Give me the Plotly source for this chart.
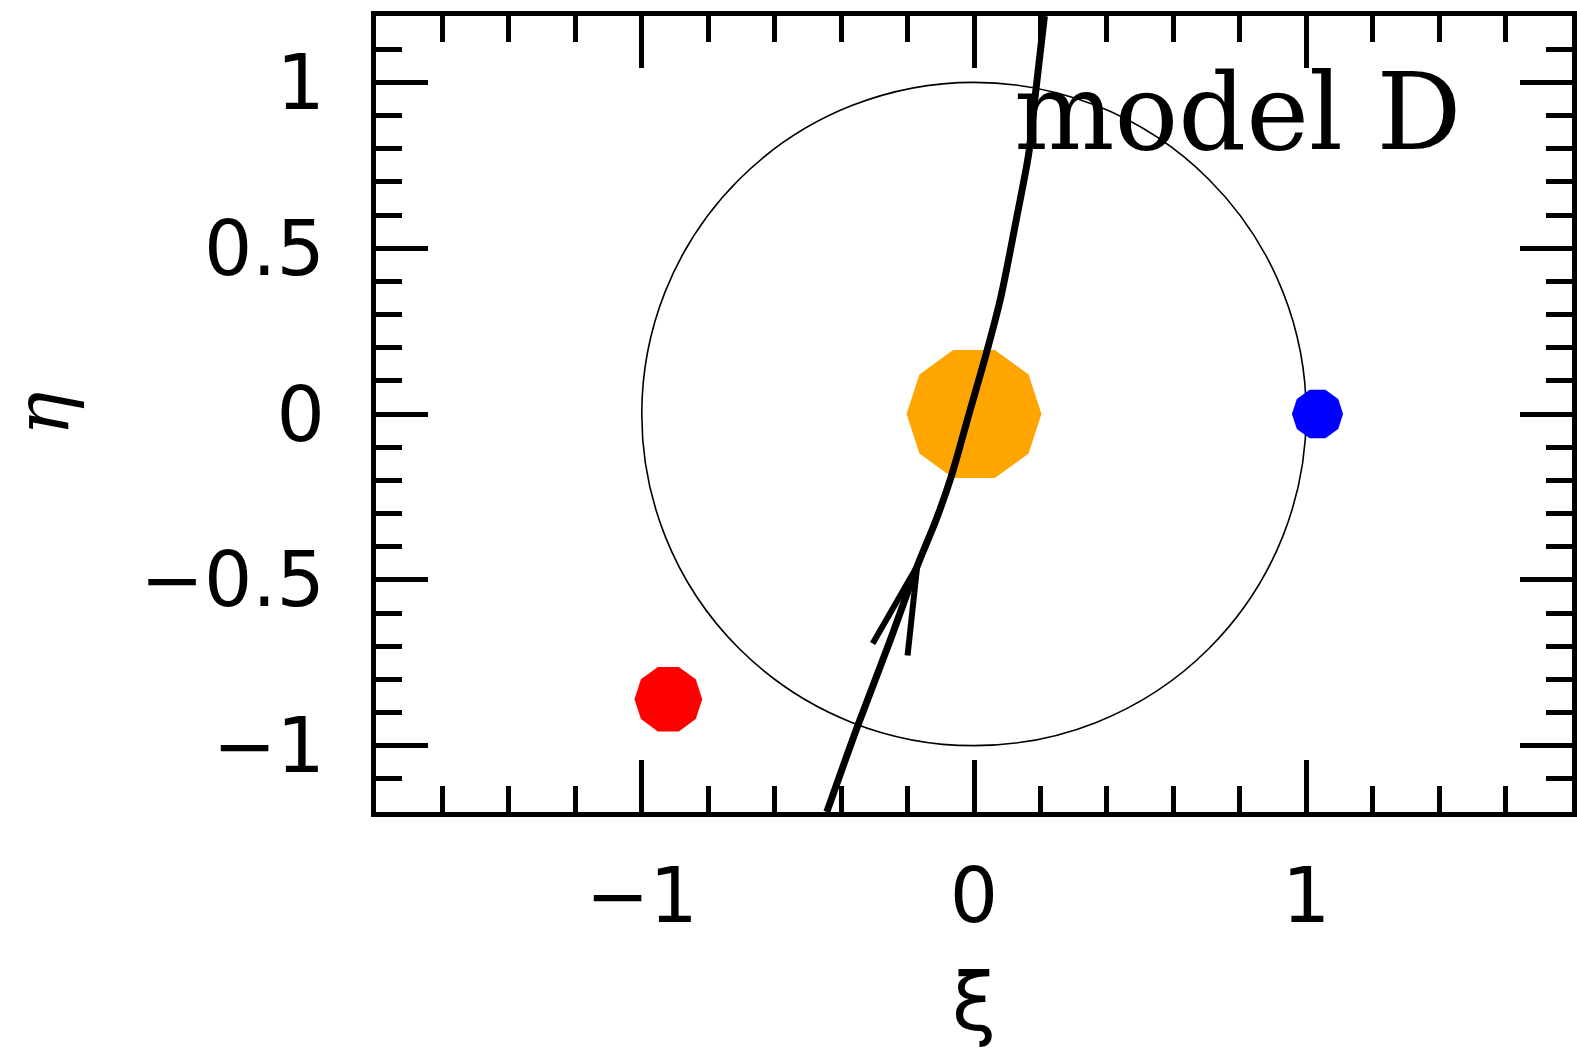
import numpy as np
import plotly.graph_objects as go

# ---- data ----
traj_xi = [-0.443, -0.35, -0.255, -0.171, -0.114, -0.069, -0.015, 0.039, 0.08, 0.13, 0.165, 0.185, 0.212]
traj_eta = [-1.2, -0.94, -0.69, -0.459, -0.319, -0.19, 0.0, 0.19, 0.349, 0.60, 0.787, 0.966, 1.2]

arrow_xi = [-0.305, -0.171, -0.200]
arrow_eta = [-0.692, -0.459, -0.728]

body_names = ["lens", "red", "blue"]
body_xi = [0.0, -0.92, 1.034]
body_eta = [0.0, -0.86, 0.0]
body_radius = [0.203, 0.102, 0.077]
body_colors = ["#FFA500", "#FF0000", "#0000FF"]

ring_radius = 1.0

x_tickvals = [-1, 0, 1]
x_ticktext = ["\u22121", "0", "1"]
y_tickvals = [-1, -0.5, 0, 0.5, 1]
y_ticktext = ["\u22121", "\u22120.5", "0", "0.5", "1"]

label_text = "model D"
x_title = "\u03be"
y_title = "\u03b7"

fig = go.Figure()

# bodies drawn as decagons
for name, cx, cy, r, c in zip(body_names, body_xi, body_eta, body_radius, body_colors):
    ang = np.deg2rad(np.arange(0, 360, 36))
    fig.add_trace(go.Scatter(
        x=cx + r * np.cos(ang), y=cy + r * np.sin(ang),
        mode="lines", fill="toself", fillcolor=c,
        line=dict(width=0, color=c), hoverinfo="skip", showlegend=False, name=name))

# trajectory
fig.add_trace(go.Scatter(x=traj_xi, y=traj_eta, mode="lines",
                         line=dict(color="black", width=7, shape="spline", smoothing=0.8),
                         showlegend=False))
# arrow head
fig.add_trace(go.Scatter(x=arrow_xi, y=arrow_eta, mode="lines",
                         line=dict(color="black", width=6), showlegend=False))

# Einstein ring
fig.add_shape(type="circle", xref="x", yref="y",
              x0=-ring_radius, y0=-ring_radius, x1=ring_radius, y1=ring_radius,
              line=dict(color="black", width=1.6), layer="below")

fig.add_annotation(x=0.795, y=0.91, xref="x", yref="y", text=label_text,
                   showarrow=False, font=dict(family="DejaVu Serif", size=106, color="black"))

# y-axis title (placed as annotation for exact position)
fig.add_annotation(x=0, y=0.5, xref="paper", yref="paper", text=y_title, textangle=-90,
                   xanchor="center", yanchor="middle", xshift=-334, showarrow=False,
                   font=dict(family="DejaVu Serif", size=74, color="black", style="italic"))

tickfont = dict(family="DejaVu Sans", size=76, color="black")
common = dict(showgrid=False, zeroline=False, showline=True, linecolor="black", linewidth=5,
              mirror="allticks", ticks="inside", tickcolor="black", tickwidth=4.5,
              ticklen=52, tickfont=tickfont, automargin=False)

fig.update_xaxes(range=[-1.8, 1.8], tickmode="array", tickvals=x_tickvals, ticktext=x_ticktext,
                 minor=dict(dtick=0.2, tick0=0, ticks="inside", ticklen=26, tickwidth=4.5, tickcolor="black"),
                 ticklabelstandoff=14,
                 title=dict(text=x_title, font=dict(family="DejaVu Sans", size=80, color="black"), standoff=49),
                 **common)
fig.update_yaxes(range=[-1.2, 1.2], tickmode="array", tickvals=y_tickvals, ticktext=y_ticktext,
                 minor=dict(dtick=0.1, tick0=0, ticks="inside", ticklen=26, tickwidth=4.5, tickcolor="black"),
                 ticklabelstandoff=31,
                 **common)

fig.update_layout(width=1577, height=1049,
                  margin=dict(l=376, r=5, t=16, b=237),
                  paper_bgcolor="white", plot_bgcolor="white", showlegend=False)

fig.write_html("out.html")
